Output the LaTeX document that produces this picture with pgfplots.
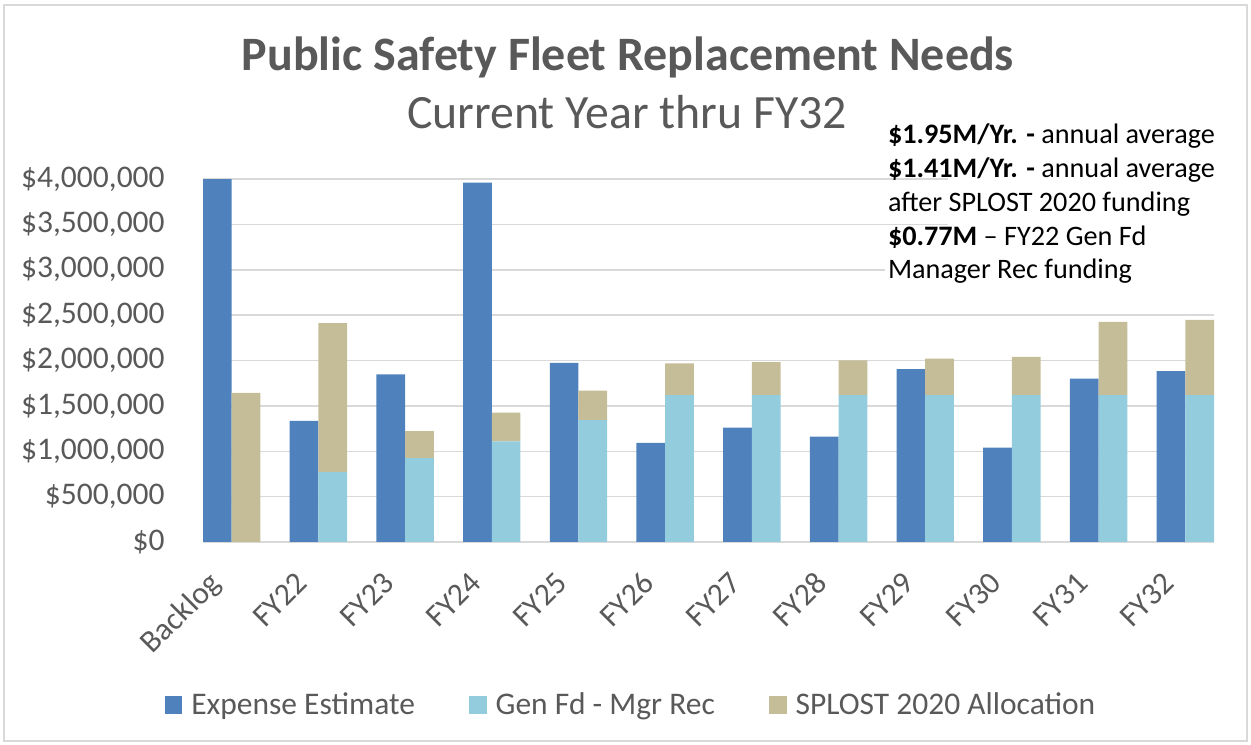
\documentclass[border=0pt]{standalone}
\usepackage{pgfplots}
\usepackage{pgfplotstable}
\pgfplotsset{compat=1.18}
\usepackage{fontspec}
\setmainfont{Carlito}
\definecolor{cBlue}{HTML}{4F81BD}
\definecolor{cAqua}{HTML}{93CDDD}
\definecolor{cTan}{HTML}{C4BD97}
\definecolor{cText}{HTML}{595959}
\definecolor{cGrid}{HTML}{D9D9D9}

\pgfplotstableread{
x expense genfd splost
0 4000000 0 1643000
1 1335000 770000 1642000
2 1846000 923000 298000
3 3960000 1110000 316000
4 1974000 1342000 327000
5 1092000 1618000 349000
6 1261000 1618000 364000
7 1162000 1618000 382000
8 1904000 1618000 404000
9 1040000 1618000 422000
10 1801000 1618000 808000
11 1882000 1618000 831000
}\datatable

\pgfplotsset{
  myaxis/.style={
    at={(101.5bp,101.5bp)}, anchor=south west,
    width=505.5bp, height=181.5bp, scale only axis,
    xmin=-0.331, xmax=11.331, ymin=0, ymax=4000000,
    enlargelimits=false, scaled y ticks=false,
  }
}

\begin{document}
\begin{tikzpicture}
\useasboundingbox (0bp,0bp) rectangle (625.5bp,372.5bp);
\draw[cGrid, line width=1bp] (2bp,2bp) rectangle (623.5bp,370bp);

\begin{axis}[
  myaxis,
  ybar, bar width=14.35bp,
  axis lines*=left,
  y axis line style={draw=none},
  x axis line style={draw=cGrid, line width=1bp},
  major tick length=0pt,
  ymajorgrids, grid style={cGrid, line width=0.75bp},
  ytick={0,500000,1000000,1500000,2000000,2500000,3000000,3500000,4000000},
  yticklabels={{\textnormal{\$0}},{\textnormal{\$500,000}},{\textnormal{\$1,000,000}},{\textnormal{\$1,500,000}},{\textnormal{\$2,000,000}},{\textnormal{\$2,500,000}},{\textnormal{\$3,000,000}},{\textnormal{\$3,500,000}},{\textnormal{\$4,000,000}}},
  xtick={0,1,2,3,4,5,6,7,8,9,10,11},
  xticklabels={Backlog,FY22,FY23,FY24,FY25,FY26,FY27,FY28,FY29,FY30,FY31,FY32},
  tick label style={font=\fontsize{15.75bp}{18bp}\selectfont, text=cText},
  yticklabel style={anchor=east, inner sep=0pt, xshift=-19bp},
  xticklabel style={xshift=-4.5bp, yshift=-21.5bp, rotate=45, anchor=base east, inner sep=0pt},
  legend style={at={(0.4243,-0.449)}, anchor=center, draw=none, fill=none,
    legend columns=3, font=\fontsize{15.75bp}{18bp}\selectfont, text=cText,
    /tikz/every even column/.append style={column sep=25bp},
    /tikz/every odd column/.append style={column sep=2.5bp}},
  legend image code/.code={\fill[#1] (0bp,-4.43bp) rectangle (8.85bp,4.43bp);},
]
\addplot[fill=cBlue, draw=none, bar shift=-7.175bp] table[x=x, y=expense]{\datatable};
\addlegendentry{Expense Estimate}
\addlegendimage{fill=cAqua, draw=none}
\addlegendentry{Gen Fd - Mgr Rec}
\addlegendimage{fill=cTan, draw=none}
\addlegendentry{SPLOST 2020 Allocation}
\end{axis}

\begin{axis}[
  myaxis, hide axis,
  ybar stacked, bar width=14.35bp,
]
\addplot[fill=cAqua, draw=none, bar shift=7.175bp] table[x=x, y=genfd]{\datatable};
\addplot[fill=cTan, draw=none, bar shift=7.175bp] table[x=x, y=splost]{\datatable};
\end{axis}

\fill[white] (474bp,247.5bp) rectangle (608bp,310bp);
\fill[white] (442.5bp,226.5bp) rectangle (608bp,247.6bp);

\node[anchor=base, font=\fontsize{24bp}{28bp}\selectfont\bfseries, text=cText, inner sep=0pt] at (314bp,337.2bp) {Public Safety Fleet Replacement Needs};
\node[anchor=base, font=\fontsize{23.9bp}{28bp}\selectfont, text=cText, inner sep=0pt] at (313.5bp,308.4bp) {Current Year thru FY32};

\begin{scope}[every node/.style={anchor=base west, inner sep=0pt, font=\fontsize{14.1bp}{16.9bp}\selectfont, text=black}]
\node at (443.8bp,300.5bp) {\textbf{\$1.95M/Yr. -} annual average};
\node at (443.8bp,283.7bp) {\textbf{\$1.41M/Yr. -} annual average};
\node at (443.8bp,266.8bp) {after SPLOST 2020 funding};
\node at (443.8bp,249.9bp) {\textbf{\$0.77M} – FY22 Gen Fd};
\node at (443.8bp,233bp) {Manager Rec funding};
\end{scope}
\end{tikzpicture}
\end{document}
